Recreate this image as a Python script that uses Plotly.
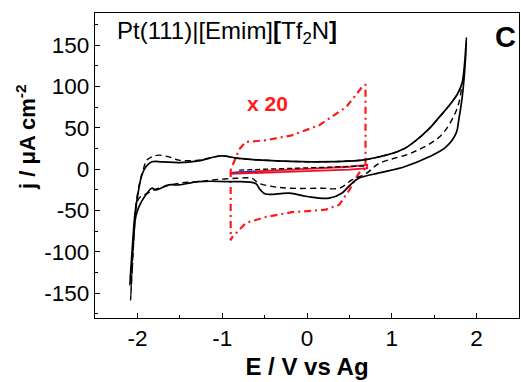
import plotly.graph_objects as go

# Solid CV (black): anodic branch then cathodic branch
solid_E = [-2.09, -2.07, -2.05, -2.03, -2.00, -1.95, -1.90, -1.83, -1.71, -1.51, -1.28, -1.02, -0.80, -0.53,
           0.06, 0.65, 0.85, 1.00, 1.15, 1.30, 1.44, 1.56, 1.70, 1.78, 1.83, 1.86, 1.88,
           1.86, 1.83, 1.79, 1.76, 1.64, 1.44, 1.15, 0.85, 0.61, 0.50, 0.41, 0.26, 0.00, -0.21, -0.49,
           -0.55, -0.61, -0.92, -1.28, -1.51, -1.63, -1.78, -1.83, -1.90, -1.98, -2.02, -2.04, -2.06, -2.08, -2.09]
solid_j = [-140, -110, -80, -55, -34, -8, 3, 9, 9, 8, 10, 16, 13, 11,
           9, 11, 15, 19, 25, 36, 49, 63, 80, 92, 105, 130, 159,
           120, 87, 60, 44, 27, 15, 3, -4.5, -11, -20, -29, -35, -33, -29, -30,
           -25, -17, -15, -15, -19, -19, -25, -23, -31, -45, -58, -77, -105, -130, -140]

# Dashed CV (black)
dash_E = [-2.08, -2.06, -2.04, -2.02, -1.97, -1.93, -1.89, -1.83, -1.75, -1.63, -1.51, -1.28, -1.02, -0.80, -0.53,
          0.06, 0.65, 0.85, 1.00, 1.15, 1.30, 1.44, 1.56, 1.70, 1.78, 1.82,
          1.79, 1.71, 1.56, 1.24, 0.85, 0.70, 0.53, 0.38, 0.18, -0.21, -0.40, -0.57, -0.65, -0.84, -1.12,
          -1.28, -1.51, -1.75, -1.90, -1.98, -2.02, -2.04, -2.06, -2.08]
dash_j = [-158, -120, -80, -45, -15, 0, 11, 15, 17, 15, 11, 11, 16, 13, 11,
          9, 11, 15, 19, 25, 36, 49, 63, 80, 92, 100,
          80, 60, 39, 20, 7, -5, -13, -23, -23, -23, -21, -17, -11, -11, -13,
          -15, -17, -23, -30, -35, -50, -80, -115, -158]

# Red x20 CV (dash-dot)
x20_E = [-0.90, -0.90, -0.88, -0.72, -0.49, -0.18, 0.22, 0.38, 0.50, 0.61, 0.69,
         0.69, 0.67, 0.61, 0.46, 0.14, -0.18, -0.49, -0.72, -0.80, -0.86, -0.90]
x20_j = [-1, -86, -82, -65, -58, -52, -49, -43, -25, -5, 1,
         102, 102, 94, 75, 53, 41, 35, 33, 24, 8, -1]

# Original small CV (red thin loop)
small_E = [-0.90, -0.50, 0.00, 0.50, 0.71, 0.71, 0.50, 0.00, -0.50, -0.90]
small_j = [-4.0, -1.7, 0.5, 3.0, 5.2, 1.2, -0.5, -2.2, -3.9, -5.7]
small_dash_E = [-0.80, 0.00, 0.70]
small_dash_j = [-1.0, 1.5, 4.0]
small_blue_E = [-0.88, -0.78, -0.60]
small_blue_j = [-4.5, -3.0, -2.5]

x_ticks = [-2, -1, 0, 1, 2]
y_ticks = [-150, -100, -50, 0, 50, 100, 150]

FONT = "Liberation Sans, Arial, sans-serif"

fig = go.Figure()
fig.add_trace(go.Scatter(x=x20_E, y=x20_j, mode="lines",
                         line=dict(color="#ff1a1a", width=2.2, dash="7px,4px,2px,4px"),
                         showlegend=False, hoverinfo="skip"))
fig.add_trace(go.Scatter(x=dash_E, y=dash_j, mode="lines", line_shape="spline",
                         line=dict(color="black", width=1.4, dash="6px,4px"),
                         showlegend=False, hoverinfo="skip"))
fig.add_trace(go.Scatter(x=solid_E, y=solid_j, mode="lines", line_shape="spline",
                         line=dict(color="black", width=1.7),
                         showlegend=False, hoverinfo="skip"))
fig.add_trace(go.Scatter(x=small_E, y=small_j, mode="lines",
                         line=dict(color="#e8102a", width=1.8),
                         showlegend=False, hoverinfo="skip"))
fig.add_trace(go.Scatter(x=small_dash_E, y=small_dash_j, mode="lines",
                         line=dict(color="black", width=1.3, dash="5px,3px"),
                         showlegend=False, hoverinfo="skip"))
fig.add_trace(go.Scatter(x=small_blue_E, y=small_blue_j, mode="lines",
                         line=dict(color="#3030d0", width=1.0),
                         showlegend=False, hoverinfo="skip"))

axis_common = dict(showline=True, linecolor="black", linewidth=1.3, mirror=True,
                   ticks="inside", ticklen=5, tickwidth=1, tickcolor="black",
                   showgrid=False, zeroline=False,
                   tickfont=dict(family=FONT, size=22.5, color="black"))

fig.update_xaxes(range=[-2.5, 2.5], tickvals=x_ticks, ticktext=[str(v) for v in x_ticks],
                 minor=dict(ticks="inside", ticklen=3, tickvals=[-1.5, -0.5, 0.5, 1.5], tickcolor="black"),
                 title=dict(text="<b>E / V vs Ag</b>", font=dict(family=FONT, size=24, color="black"), standoff=8),
                 **axis_common)
fig.update_yaxes(range=[-180, 189], tickvals=y_ticks, ticktext=[str(v) for v in y_ticks],
                 minor=dict(ticks="inside", ticklen=3, tickvals=[-175, -125, -75, -25, 25, 75, 125, 175], tickcolor="black"),
                 **axis_common)

# y-axis title (placed as annotation: it sits above the plot's mid-height in the reference)
fig.add_annotation(x=-0.163, y=0.593, xref="paper", yref="paper", xanchor="center", yanchor="middle",
                   text="<b>j / μA cm<sup>-2</sup></b>", textangle=-90, showarrow=False,
                   font=dict(family=FONT, size=22, color="black"))
fig.add_annotation(x=0.047, y=0.935, xref="paper", yref="paper", xanchor="left", yanchor="middle",
                   text="Pt(111)|[Emim]<b>[</b>Tf<sub>2</sub>N<b>]</b>", showarrow=False,
                   font=dict(family=FONT, size=24, color="black"))
fig.add_annotation(x=0.967, y=0.921, xref="paper", yref="paper", xanchor="center", yanchor="middle",
                   text="<b>C</b>", showarrow=False, font=dict(family=FONT, size=29, color="black"))
fig.add_annotation(x=-0.46, y=79, xref="x", yref="y", xanchor="center", yanchor="middle",
                   text="<b>x 20</b>", showarrow=False, font=dict(family=FONT, size=21, color="#ff1a1a"))

fig.update_layout(width=521, height=382, margin=dict(l=95, r=2, t=13, b=64),
                  paper_bgcolor="white", plot_bgcolor="white", showlegend=False)

fig.write_html("out.html", config={"displayModeBar": False},
               post_script="document.body.style.margin='0px';document.body.style.overflow='hidden';")
